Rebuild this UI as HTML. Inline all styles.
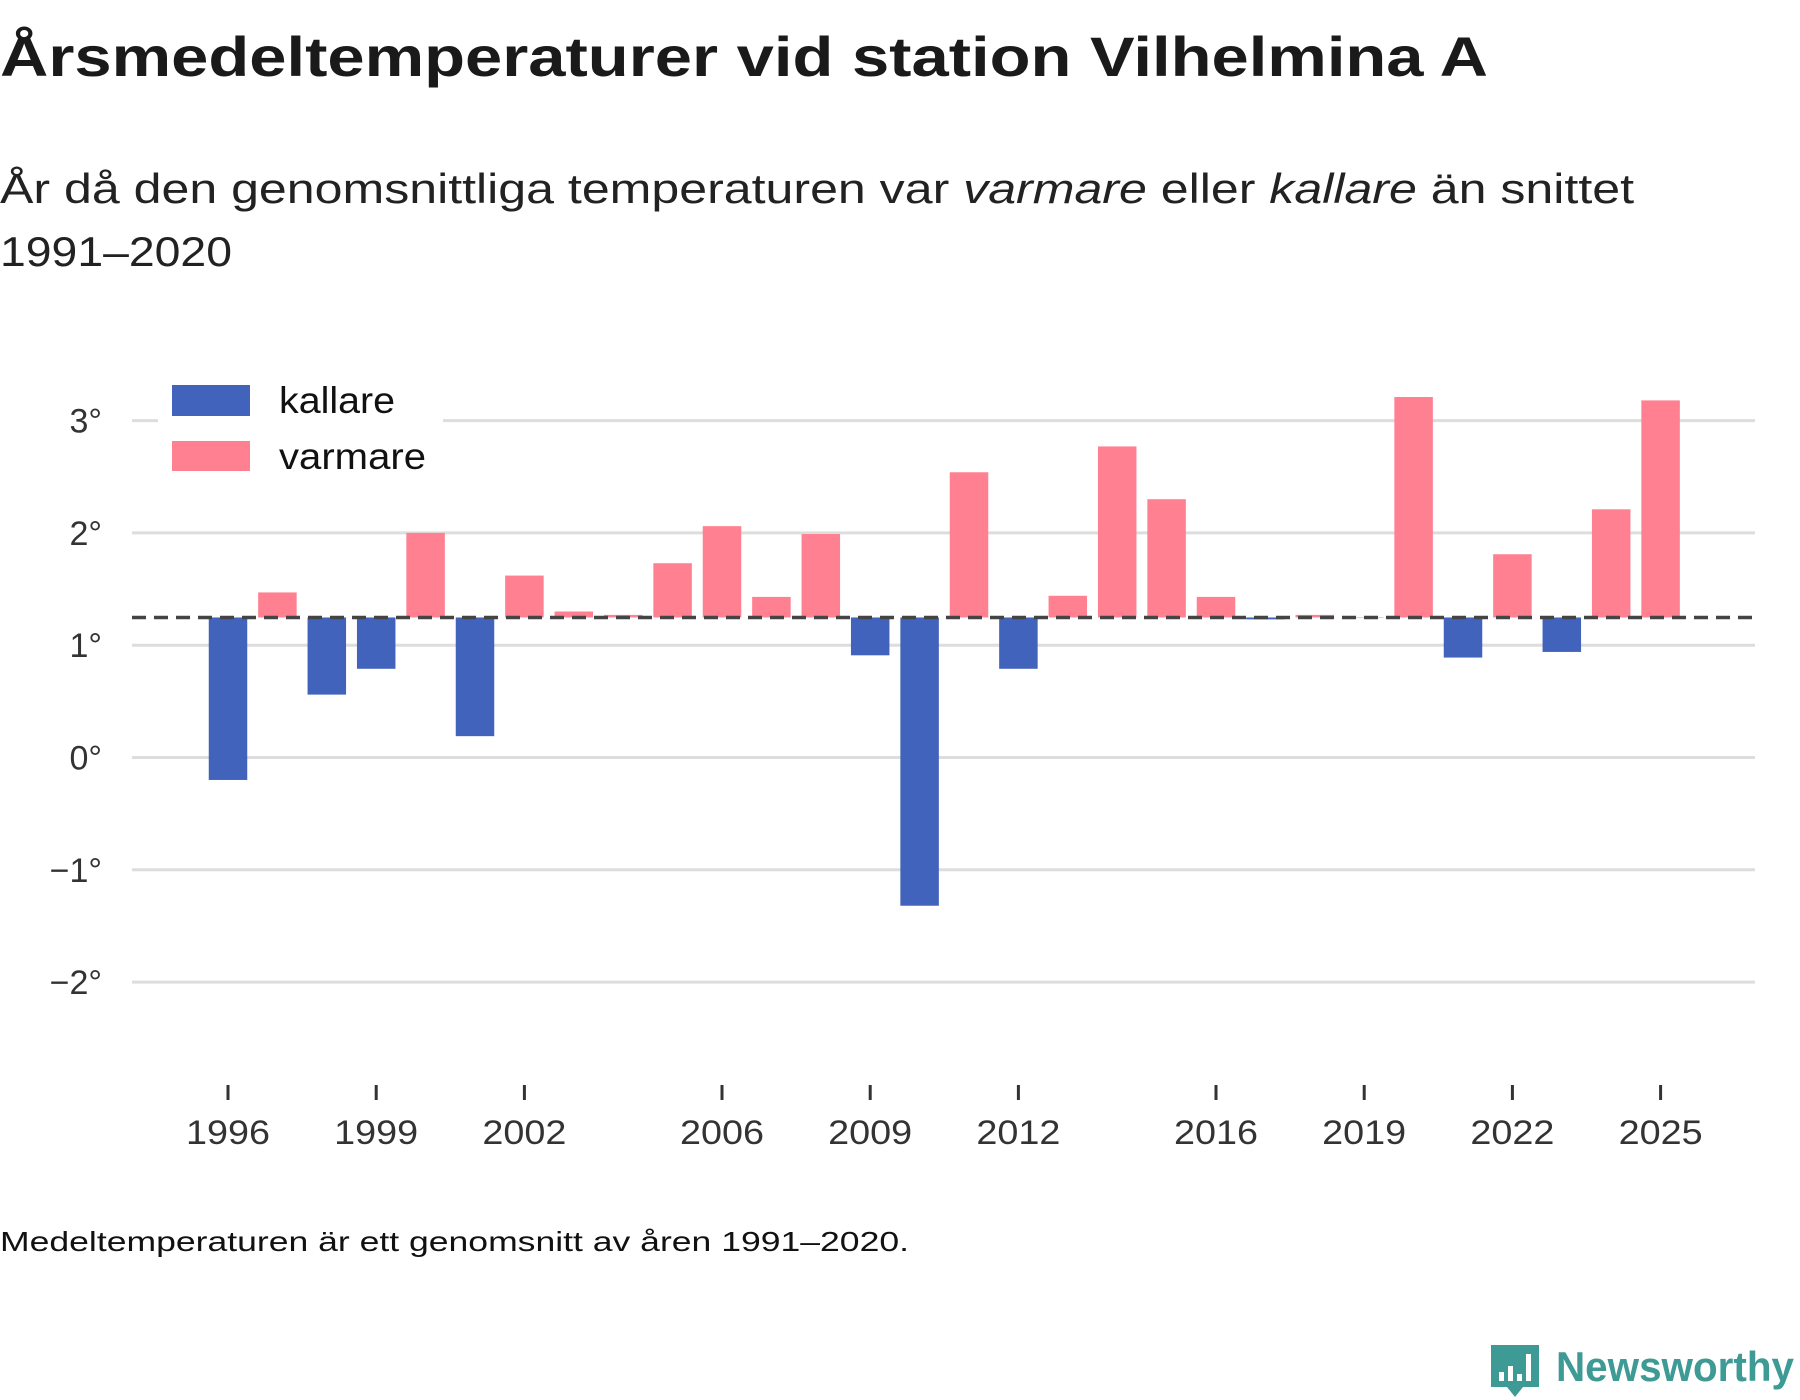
<!DOCTYPE html>
<html><head><meta charset="utf-8"><style>
html,body{margin:0;padding:0;background:#fff;}
svg{display:block;font-family:"Liberation Sans","DejaVu Sans",sans-serif;}
</style></head><body>
<svg id="chart" width="1800" height="1400" viewBox="0 0 1800 1400">
<text x="0" y="76" font-size="56" font-weight="bold" fill="#1a1a1a" textLength="1488" lengthAdjust="spacingAndGlyphs">Årsmedeltemperaturer vid station Vilhelmina A</text>
<text x="0" y="203" font-size="42" fill="#222" textLength="1634" lengthAdjust="spacingAndGlyphs">År då den genomsnittliga temperaturen var <tspan font-style="italic">varmare</tspan> eller <tspan font-style="italic">kallare</tspan> än snittet</text>
<text x="0" y="266" font-size="42" fill="#222" textLength="232" lengthAdjust="spacingAndGlyphs">1991–2020</text>
<g id="grid"></g>
<g id="bars"></g>
<g id="xaxis"></g>
<g id="legend">
<rect x="158" y="400" width="285" height="40" fill="#fff"/>
<rect x="172" y="385" width="78" height="31" fill="#4263bb"/>
<text x="279" y="413" font-size="37" fill="#111" textLength="116" lengthAdjust="spacingAndGlyphs">kallare</text>
<rect x="172" y="441" width="78" height="30" fill="#ff8091"/>
<text x="279" y="469" font-size="37" fill="#111" textLength="147" lengthAdjust="spacingAndGlyphs">varmare</text>
</g>
<text x="0" y="1251" font-size="28" fill="#111" textLength="909" lengthAdjust="spacingAndGlyphs">Medeltemperaturen är ett genomsnitt av åren 1991–2020.</text>
<g>
<path d="M1491 1345 h48 v42 h-16 l-8 10 l-8 -10 h-16 z" fill="#3d9a94"/>
<rect x="1499" y="1372" width="5" height="9" fill="#fff"/>
<rect x="1508" y="1366" width="5" height="15" fill="#fff"/>
<rect x="1517" y="1374" width="5" height="7" fill="#fff"/>
<rect x="1526" y="1354" width="5" height="27" fill="#fff"/>
<text x="1556" y="1381" font-size="42" font-weight="bold" fill="#3d9a94" textLength="238" lengthAdjust="spacingAndGlyphs">Newsworthy</text>
</g>
</svg>
<script>
const years = [1996,1997,1998,1999,2000,2001,2002,2003,2004,2005,2006,2007,2008,2009,2010,2011,2012,2013,2014,2015,2016,2017,2018,2019,2020,2021,2022,2023,2024,2025];
const temps = [-0.20,1.47,0.56,0.79,2.00,0.19,1.62,1.30,1.27,1.73,2.06,1.43,1.99,0.91,-1.32,2.54,0.79,1.44,2.77,2.30,1.43,1.23,1.27,1.25,3.21,0.89,1.81,0.94,2.21,3.18];
const baseline = 1.247;
const yTicks = [3,2,1,0,-1,-2];
const yTickLabels = ["3°","2°","1°","0°","−1°","−2°"];
const xTicks = [1996,1999,2002,2006,2009,2012,2016,2019,2022,2025];

const NS = "http://www.w3.org/2000/svg";
const y = v => 757.5 - v * 112.3;
const x = yr => 228 + (yr - 1996) * 49.4;
const bw = 38.5;
function mk(tag, attrs, parent){const e=document.createElementNS(NS,tag);for(const k in attrs)e.setAttribute(k,attrs[k]);parent.appendChild(e);return e;}

const grid = document.getElementById('grid');
yTicks.forEach((t,i)=>{
  const l = mk('line',{x1:132,x2:1755,y1:y(t),y2:y(t),stroke:'#dddddd','stroke-width':3},grid);
  
  
  const tx = mk('text',{x:102,y:y(t)+12,'font-size':34,'text-anchor':'end',fill:'#333'},grid);
  tx.textContent = yTickLabels[i];
  
  
});

const bars = document.getElementById('bars');
years.forEach((yr,i)=>{
  const v = temps[i];
  const top = Math.min(y(v), y(baseline)), bot = Math.max(y(v), y(baseline));
  const r = mk('rect',{x:x(yr)-bw/2,y:top,width:bw,height:Math.max(bot-top,0.5),fill: v>=baseline?'#ff8091':'#4263bb'},bars);
  
  
});
const bl = mk('line',{x1:132,x2:1755,y1:y(baseline),y2:y(baseline),stroke:'#444','stroke-width':3.5,'stroke-dasharray':'14 8'},bars);



const xa = document.getElementById('xaxis');
xTicks.forEach(yr=>{
  const t = mk('line',{x1:x(yr),x2:x(yr),y1:1085,y2:1100,stroke:'#333','stroke-width':3},xa);
  
  
  const tx = mk('text',{x:x(yr),y:1144,'font-size':34,'text-anchor':'middle',fill:'#333',textLength:84,lengthAdjust:'spacingAndGlyphs'},xa);
  tx.textContent = yr;
  
  
});
</script>
</body></html>
